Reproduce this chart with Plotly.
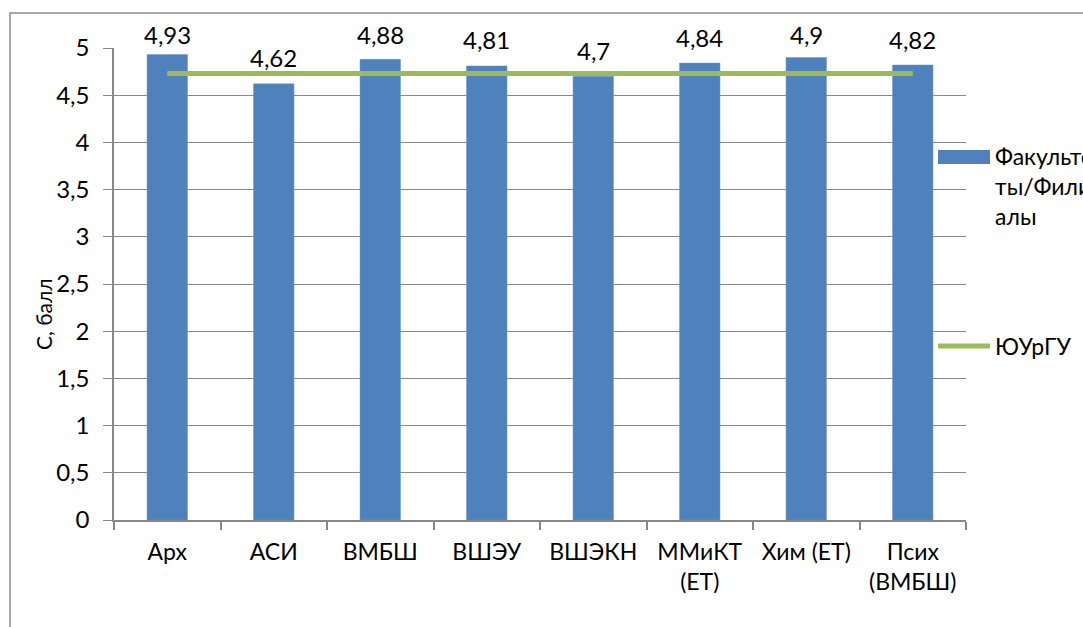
import plotly.graph_objects as go

categories = ["Арх", "АСИ", "ВМБШ", "ВШЭУ", "ВШЭКН", "ММиКТ<br>(ЕТ)", "Хим (ЕТ)", "Псих<br>(ВМБШ)"]
faculty_values = [4.93, 4.62, 4.88, 4.81, 4.70, 4.84, 4.90, 4.82]
university_values = [4.73, 4.73, 4.73, 4.73, 4.73, 4.73, 4.73, 4.73]
value_labels = ["4,93", "4,62", "4,88", "4,81", "4,7", "4,84", "4,9", "4,82"]
y_ticks = [0, 0.5, 1, 1.5, 2, 2.5, 3, 3.5, 4, 4.5, 5]
y_tick_labels = ["0", "0,5", "1", "1,5", "2", "2,5", "3", "3,5", "4", "4,5", "5"]

BLUE = "#4F81BD"
GREEN = "#9BBB59"
GRID = "#888888"
FONT = "Lato"
FS = 24
Y_MAX = 5

W, H = 1083, 627
L, R, T, B = 114, 966, 48, 520
pw, ph = R - L, B - T


def px(x):
    return (x - L) / pw


def py(y):
    return (B - y) / ph


fig = go.Figure()
fig.add_trace(go.Bar(
    x=categories, y=faculty_values, name="Факультеты/Филиалы",
    marker=dict(color=BLUE, line=dict(color="#6F96CC", width=0.5)),
    width=0.38, showlegend=False,
))
fig.add_trace(go.Scatter(
    x=categories, y=university_values, name="ЮУрГУ", mode="lines",
    line=dict(color=GREEN, width=5), showlegend=False,
))

shapes = [
    # chart border
    dict(type="rect", xref="paper", yref="paper",
         x0=px(10), x1=px(1090), y0=py(13), y1=py(640),
         line=dict(color="#8C8C8C", width=1.5), layer="below"),
    # legend symbols
    dict(type="rect", xref="paper", yref="paper",
         x0=px(938), x1=px(990), y0=py(164), y1=py(150),
         fillcolor=BLUE, line=dict(width=0)),
    dict(type="line", xref="paper", yref="paper",
         x0=px(938), x1=px(990), y0=py(346), y1=py(346),
         line=dict(color=GREEN, width=5)),
]

annotations = [
    dict(text="С, балл", textangle=-90, xref="paper", yref="paper",
         x=px(44), y=py(315), xanchor="center", yanchor="middle", showarrow=False,
         font=dict(family=FONT, size=21, color="black")),
    dict(text="Факульте<br>ты/Фили<br>алы", xref="paper", yref="paper",
         x=px(993), y=py(140), xanchor="left", yanchor="top", align="left",
         showarrow=False, font=dict(family=FONT, size=FS - 1, color="black")),
    dict(text="ЮУрГУ", xref="paper", yref="paper",
         x=px(993), y=py(346), xanchor="left", yanchor="middle", align="left",
         showarrow=False, font=dict(family=FONT, size=FS - 1, color="black")),
]

# data labels above bars (kept inside the chart area, as in the reference)
for cat, val, lab in zip(categories, faculty_values, value_labels):
    annotations.append(dict(
        x=cat, xref="x", y=min(val + 0.275, 5.14) / Y_MAX, yref="paper", text=lab,
        showarrow=False, xanchor="center", yanchor="middle",
        font=dict(family=FONT, size=FS, color="black"),
    ))

fig.update_layout(
    width=W, height=H,
    margin=dict(l=L, r=W - R, t=T, b=H - B, autoexpand=False),
    paper_bgcolor="white", plot_bgcolor="white",
    font=dict(family=FONT, size=FS, color="black"),
    shapes=shapes, annotations=annotations,
    xaxis=dict(
        showgrid=False, showline=True, linecolor=GRID, linewidth=1.5,
        ticks="outside", tickson="boundaries", ticklen=8, tickcolor=GRID, tickwidth=1.5,
        tickfont=dict(family=FONT, size=FS - 1, color="black"),
        ticklabelstandoff=11,
        fixedrange=True,
    ),
    yaxis=dict(
        range=[0, Y_MAX], tickvals=y_ticks, ticktext=y_tick_labels,
        showgrid=True, gridcolor=GRID, gridwidth=1.2,
        showline=True, linecolor=GRID, linewidth=1.5,
        ticks="outside", ticklen=9, tickcolor=GRID, tickwidth=1.2,
        tickfont=dict(family=FONT, size=FS, color="black"),
        ticklabelstandoff=9,
        zeroline=False, fixedrange=True,
    ),
)

fig.write_html("out.html", config={"displayModeBar": False},
               post_script="document.body.style.margin='0';")
